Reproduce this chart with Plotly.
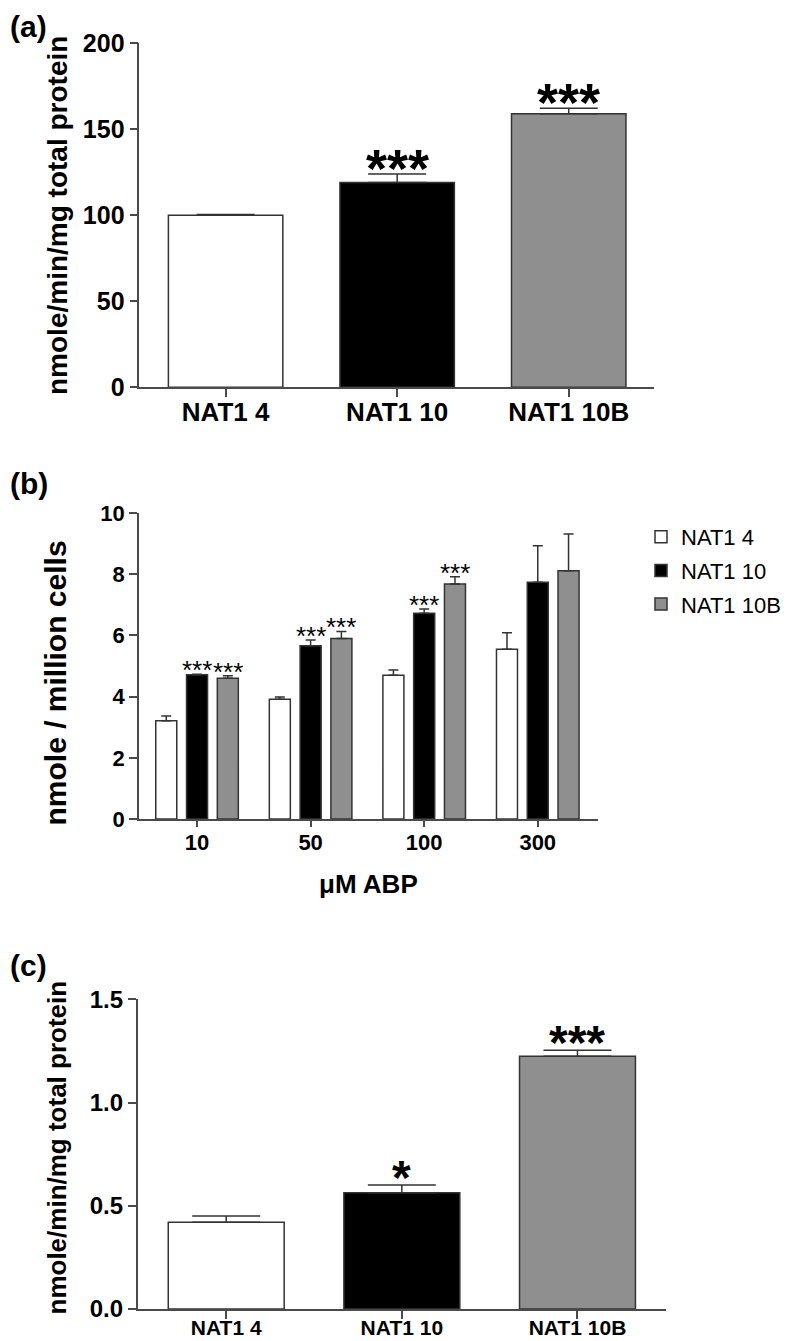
import plotly.graph_objects as go

# ---------------- data ----------------
genotypes = ["NAT1 4", "NAT1 10", "NAT1 10B"]
fill_colors = ["#ffffff", "#000000", "#8f8f8f"]

# panel (a)
a_values = [100.0, 119.0, 159.0]
a_errors = [0.5, 5.0, 3.3]
a_stars = ["", "***", "***"]
a_yticks = [0, 50, 100, 150, 200]

# panel (b)
b_conc = ["10", "50", "100", "300"]
b_nat1_4 = [3.21, 3.91, 4.70, 5.55]
b_nat1_4_err = [0.16, 0.08, 0.17, 0.54]
b_nat1_10 = [4.71, 5.66, 6.72, 7.74]
b_nat1_10_err = [0.02, 0.19, 0.14, 1.19]
b_nat1_10b = [4.60, 5.90, 7.68, 8.11]
b_nat1_10b_err = [0.08, 0.23, 0.24, 1.20]
b_stars_10 = ["***", "***", "***", ""]
b_stars_10b = ["***", "***", "***", ""]
b_yticks = [0, 2, 4, 6, 8, 10]

# panel (c)
c_values = [0.42, 0.563, 1.224]
c_errors = [0.03, 0.037, 0.029]
c_stars = ["", "*", "***"]
c_yticks = [0.0, 0.5, 1.0, 1.5]

# ---------------- styling ----------------
FONT = "Arial, Liberation Sans, sans-serif"
AX = "#4a4a4a"
OUT = "#333333"
PAGE_OFF = 8            # the page places the figure 8 px from its top-left corner
W, H = 793 - PAGE_OFF, 1341 - PAGE_OFF


def px_x(p):
    return (p - PAGE_OFF) / W


def px_y(p):
    return 1 - (p - PAGE_OFF) / H


fig = go.Figure()

# ---- panel (a)
fig.add_trace(go.Bar(
    x=genotypes, y=a_values, xaxis="x", yaxis="y", width=0.667,
    marker=dict(color=fill_colors, line=dict(color=OUT, width=1.5)),
    error_y=dict(type="data", symmetric=False, array=a_errors,
                 arrayminus=[0] * len(a_errors), color=OUT, thickness=1.5, width=29),
    showlegend=False,
))

# ---- panel (b)
b_series = [(b_nat1_4, b_nat1_4_err), (b_nat1_10, b_nat1_10_err), (b_nat1_10b, b_nat1_10b_err)]
b_width = 0.185
b_pitch = 0.271
for i, (name, (vals, errs)) in enumerate(zip(genotypes, b_series)):
    center = (i - 1) * b_pitch
    fig.add_trace(go.Bar(
        x=b_conc, y=vals, xaxis="x2", yaxis="y2", name=name,
        width=b_width, offset=center - b_width / 2,
        marker=dict(color=fill_colors[i], line=dict(color=OUT, width=1.5)),
        error_y=dict(type="data", symmetric=False, array=errs,
                     arrayminus=[0] * len(errs), color=OUT, thickness=1.5, width=5),
        legendgroup=name, showlegend=True,
    ))

# ---- panel (c)
fig.add_trace(go.Bar(
    x=genotypes, y=c_values, xaxis="x3", yaxis="y3", width=0.66,
    marker=dict(color=fill_colors, line=dict(color=OUT, width=1.5)),
    error_y=dict(type="data", symmetric=False, array=c_errors,
                 arrayminus=[0] * len(c_errors), color=OUT, thickness=1.5, width=34),
    showlegend=False,
))

annotations = []

# significance stars
for i, s in enumerate(a_stars):
    if s:
        annotations.append(dict(x=i, y=a_values[i] + a_errors[i], xref="x", yref="y",
                                text=s, showarrow=False, yanchor="bottom", yshift=-26,
                                font=dict(family=FONT, size=54, color="black", weight="bold")))
for j, (stars, (vals, errs)) in enumerate([(b_stars_10, b_series[1]), (b_stars_10b, b_series[2])]):
    for i, s in enumerate(stars):
        if s:
            annotations.append(dict(x=i + j * b_pitch, y=vals[i] + errs[i], xref="x2", yref="y2",
                                    text=s, showarrow=False, yanchor="bottom", yshift=-13,
                                    font=dict(family=FONT, size=26, color="black")))
for i, s in enumerate(c_stars):
    if s:
        annotations.append(dict(x=i, y=c_values[i] + c_errors[i], xref="x3", yref="y3",
                                text=s, showarrow=False, yanchor="bottom", yshift=-21,
                                font=dict(family=FONT, size=48, color="black", weight="bold")))

# panel labels
annotations.append(dict(x=px_x(8), y=1.0, xref="paper", yref="paper", text="(a)",
                        showarrow=False, xanchor="left", yanchor="top",
                        font=dict(family=FONT, size=30, color="black", weight="bold")))
for lab, yc in [("(b)", 483.5), ("(c)", 965)]:
    annotations.append(dict(x=px_x(8), y=px_y(yc), xref="paper", yref="paper", text=lab,
                            showarrow=False, xanchor="left", yanchor="middle",
                            font=dict(family=FONT, size=30, color="black", weight="bold")))

# axis titles
annotations.append(dict(x=px_x(57.5), y=px_y(215.5), xref="paper", yref="paper",
                        text="nmole/min/mg total protein", textangle=-90, showarrow=False,
                        xanchor="center", yanchor="middle",
                        font=dict(family=FONT, size=28, color="black", weight="bold")))
annotations.append(dict(x=px_x(55.5), y=px_y(683), xref="paper", yref="paper",
                        text="nmole / million cells", textangle=-90, showarrow=False,
                        xanchor="center", yanchor="middle",
                        font=dict(family=FONT, size=30, color="black", weight="bold")))
annotations.append(dict(x=px_x(56), y=px_y(1147.5), xref="paper", yref="paper",
                        text="nmole/min/mg total protein", textangle=-90, showarrow=False,
                        xanchor="center", yanchor="middle",
                        font=dict(family=FONT, size=26, color="black", weight="bold")))
annotations.append(dict(x=px_x(368), y=px_y(884), xref="paper", yref="paper",
                        text="μM ABP", showarrow=False, xanchor="center", yanchor="middle",
                        font=dict(family=FONT, size=26, color="black", weight="bold")))


def xaxis(domain, rng, size, anchor, ticklen=8, standoff=0):
    return dict(domain=domain, range=rng, anchor=anchor, type="category",
                showline=True, linecolor=AX, linewidth=1.5, showgrid=False, zeroline=False,
                ticks="outside", ticklen=ticklen, tickwidth=1.5, tickcolor=AX,
                ticklabelstandoff=standoff,
                tickfont=dict(family=FONT, size=size, color="black", weight="bold"),
                fixedrange=True)


def yaxis(domain, rng, tickvals, size, anchor, fmt=None):
    d = dict(domain=domain, range=rng, anchor=anchor, tickvals=tickvals,
             showline=True, linecolor=AX, linewidth=1.5, showgrid=False, zeroline=False,
             ticks="outside", ticklen=8, tickwidth=1.5, tickcolor=AX,
             tickfont=dict(family=FONT, size=size, color="black", weight="bold"),
             fixedrange=True)
    if fmt:
        d["tickformat"] = fmt
    return d


fig.update_layout(
    width=W, height=H, autosize=False,
    margin=dict(l=0, r=0, t=0, b=0, autoexpand=False),
    paper_bgcolor="white", plot_bgcolor="white",
    barmode="overlay",
    font=dict(family=FONT, color="black"),
    xaxis=xaxis([px_x(139.3), px_x(654)], [-0.503, 2.497], 26, "y", 8, -7),
    yaxis=yaxis([px_y(387.3), px_y(43.3)], [0, 200], a_yticks, 25, "x"),
    xaxis2=xaxis([px_x(139), px_x(598.3)], [-0.511, 3.533], 22, "y2", 6, -3),
    yaxis2=yaxis([px_y(819), px_y(513)], [0, 10], b_yticks, 22, "x2"),
    xaxis3=xaxis([px_x(137.7), px_x(666)], [-0.504, 2.504], 21, "y3", 8, -9),
    yaxis3=yaxis([px_y(1309), px_y(999.3)], [0, 1.5], c_yticks, 24, "x3", ".1f"),
    legend=dict(x=px_x(641), y=px_y(516), xanchor="left", yanchor="top",
                font=dict(family=FONT, size=22, color="black"),
                bgcolor="rgba(0,0,0,0)", tracegroupgap=2),
    annotations=annotations,
    showlegend=True,
)

fig.write_html("out.html")
